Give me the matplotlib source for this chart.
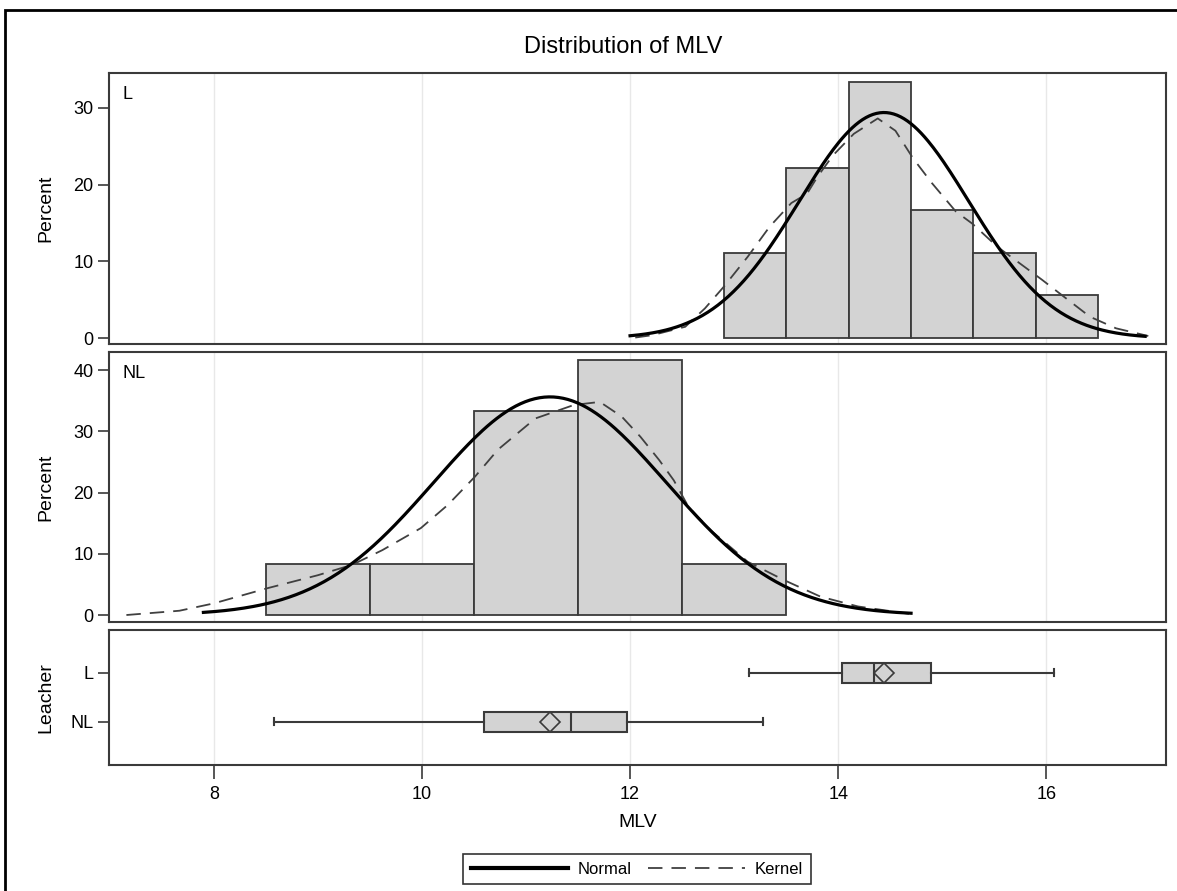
import numpy as np
import matplotlib
matplotlib.use('Agg')
import matplotlib.pyplot as plt
from matplotlib.patches import Rectangle

plt.rcParams['font.family'] = ['Liberation Sans', 'DejaVu Sans']
plt.rcParams['font.size'] = 12

# histogram bins, percent of each group
l_edges = [12.9, 13.5, 14.1, 14.7, 15.3, 15.9, 16.5]
l_pct = [11.1, 22.2, 33.3, 16.7, 11.1, 5.6]
nl_edges = [8.5, 9.5, 10.5, 11.5, 12.5, 13.5]
nl_pct = [8.3, 8.3, 33.3, 41.7, 8.3]

# fitted normal curves (mean, std, drawn range)
l_mean, l_std, l_span = 14.44, 0.815, (12.0, 16.95)
nl_mean, nl_std, nl_span = 11.23, 1.12, (7.9, 14.7)

# kernel density curves
l_kx = [12.05, 12.21, 12.53, 12.72, 12.90, 13.13, 13.34, 13.55, 13.70, 13.80,
        13.95, 14.15, 14.38, 14.55, 14.72, 14.90, 15.13, 15.29, 15.53, 15.75,
        15.96, 16.17, 16.42, 16.67, 16.98]
l_ky = [0.1, 0.4, 1.5, 3.9, 6.7, 10.6, 14.5, 17.6, 18.8, 21.0,
        23.8, 26.6, 28.6, 27.0, 23.4, 20.2, 16.5, 14.9, 11.9, 9.7,
        7.6, 5.4, 2.8, 1.3, 0.3]
nl_kx = [7.16, 7.67, 8.00, 8.52, 9.00, 9.33, 9.62, 9.99, 10.25, 10.51,
         10.73, 11.09, 11.46, 11.71, 11.92, 12.10, 12.28, 12.42, 12.56, 12.77,
         13.13, 13.48, 13.83, 14.19, 14.68]
nl_ky = [0.0, 0.7, 1.9, 4.4, 6.5, 8.2, 10.6, 14.2, 18.0, 22.6,
         27.0, 32.1, 34.3, 34.8, 32.4, 29.1, 25.3, 22.0, 17.7, 13.9,
         8.7, 5.7, 3.0, 1.4, 0.2]

# box plot summary per Leacher group
groups = ['L', 'NL']
whislo = [13.14, 8.58]
q1 = [14.04, 10.60]
med = [14.34, 11.43]
means = [14.44, 11.23]
q3 = [14.89, 11.97]
whishi = [16.07, 13.28]

frame_col = '#3a3a3a'
bar_col = '#d3d3d3'
grid_col = '#e8e8e8'
xticks = [8, 10, 12, 14, 16]
xlim = (6.99, 17.15)

W, H = 1177, 891
fig = plt.figure(figsize=(W / 100, H / 100), dpi=100)
AX_L, AX_R = 108.7, 1166
YLAB_X = (54 - AX_L) / (AX_R - AX_L)


def px_axes(y0, y1):
    return fig.add_axes([AX_L / W, 1 - y1 / H, (AX_R - AX_L) / W, (y1 - y0) / H])


def style(ax):
    for s in ax.spines.values():
        s.set_color(frame_col)
        s.set_linewidth(1.5)
    ax.set_xlim(*xlim)
    ax.set_xticks(xticks)
    ax.grid(axis='x', color=grid_col, lw=1)
    ax.set_axisbelow(True)
    ax.tick_params(axis='y', direction='out', length=8, width=1.2,
                   color=frame_col, labelsize=13, pad=3)


def hist_panel(ax, edges, pct, mean, std, span, kx, ky, name, ylim, yticks):
    style(ax)
    widths = np.diff(edges)
    ax.bar(edges[:-1], pct, width=widths, align='edge', color=bar_col,
           edgecolor=frame_col, linewidth=1.3, zorder=2)
    bw = widths[0]
    xs = np.linspace(span[0], span[1], 300)
    ys = 100 * bw * np.exp(-0.5 * ((xs - mean) / std) ** 2) / (std * np.sqrt(2 * np.pi))
    ax.plot(xs, ys, color='black', lw=2.3, zorder=4)
    ax.plot(kx, ky, color='#404040', lw=1.3, dashes=(8, 5), zorder=3)
    ax.set_ylim(*ylim)
    ax.set_yticks(yticks)
    ax.tick_params(axis='x', bottom=False, labelbottom=False)
    ax.set_ylabel('Percent', fontsize=14)
    ax.yaxis.set_label_coords(YLAB_X, 0.5)
    ax.text(0.013, 0.95, name, transform=ax.transAxes, ha='left', va='top',
            fontsize=13)


ax1 = px_axes(72.7, 344)
hist_panel(ax1, l_edges, l_pct, l_mean, l_std, l_span, l_kx, l_ky, 'L',
           (-0.74, 34.55), [0, 10, 20, 30])

ax2 = px_axes(351.7, 622)
hist_panel(ax2, nl_edges, nl_pct, nl_mean, nl_std, nl_span, nl_kx, nl_ky, 'NL',
           (-1.14, 43.0), [0, 10, 20, 30, 40])

# horizontal box plots
ax3 = px_axes(630, 765)
style(ax3)
stats = []
for i, g in enumerate(groups):
    stats.append(dict(label=g, whislo=whislo[i], q1=q1[i], med=med[i],
                      q3=q3[i], whishi=whishi[i], mean=means[i], fliers=[]))
ax3.bxp(stats, positions=[0, 1], widths=0.41, orientation='horizontal',
        showmeans=True, patch_artist=True, capwidths=0.15,
        boxprops=dict(facecolor=bar_col, edgecolor=frame_col, linewidth=1.5),
        medianprops=dict(color=frame_col, linewidth=1.5),
        whiskerprops=dict(color=frame_col, linewidth=1.5),
        capprops=dict(color=frame_col, linewidth=1.5),
        meanprops=dict(marker='D', markersize=10, markerfacecolor='none',
                       markeredgecolor=frame_col, markeredgewidth=1.2))
ax3.set_ylim(1.88, -0.87)
ax3.set_yticks([0, 1])
ax3.set_yticklabels(groups)
ax3.set_ylabel('Leacher', fontsize=14)
ax3.yaxis.set_label_coords(YLAB_X, 0.5)
ax3.tick_params(axis='x', direction='out', length=10, width=1.2,
                color=frame_col, labelsize=13, pad=5)
ax3.set_xlabel('MLV', fontsize=14, labelpad=8)

fig.text(623 / W, 1 - 47 / H, 'Distribution of MLV', ha='center', va='center',
         fontsize=17)

# legend
h_norm, = ax3.plot([], [], color='black', lw=3)
h_kern, = ax3.plot([], [], color='#404040', lw=1.3, dashes=(8, 5))
leg = fig.legend([h_norm, h_kern], ['Normal', 'Kernel'], ncol=2,
                 loc='center', bbox_to_anchor=(637 / W, 1 - 869 / H),
                 frameon=True, fancybox=False, fontsize=12, handlelength=5.8,
                 columnspacing=1.0, handletextpad=0.6, borderpad=0.45)
leg.get_frame().set_edgecolor('black')
leg.get_frame().set_linewidth(1.2)

# outer border around the graph area
fig.patches.append(Rectangle((5 / W, -0.1), 1.2, 1.1 - 10 / H, fill=False,
                             edgecolor='black', lw=2, transform=fig.transFigure))

fig.savefig('out.png', dpi=100)
